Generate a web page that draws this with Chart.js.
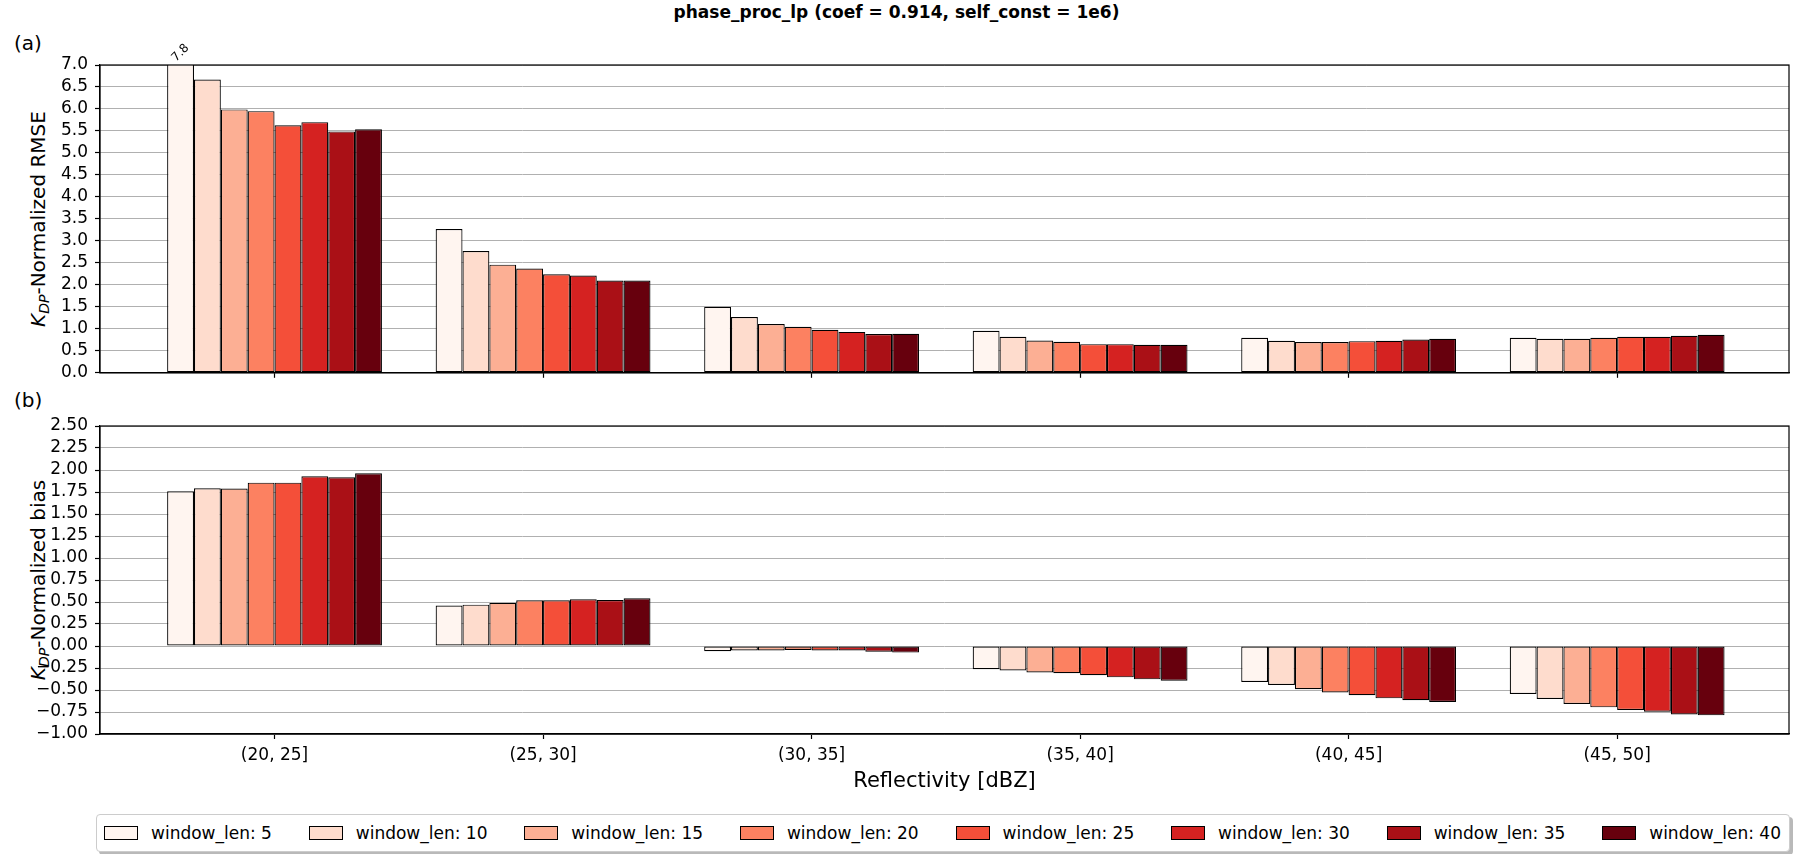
<!DOCTYPE html>
<html><head><meta charset="utf-8">
<script src="https://cdn.jsdelivr.net/npm/chart.js@4.4.0/dist/chart.umd.min.js"></script>
<style>
html,body{margin:0;padding:0;background:#fff;}
body{width:1793px;height:854px;position:relative;overflow:hidden;font-family:'DejaVu Sans',sans-serif;color:#000;}
canvas{position:absolute;left:0;}
#title{position:absolute;left:0;width:1793px;top:2px;text-align:center;font-weight:bold;font-size:17px;line-height:20px;white-space:nowrap;}
.tag{position:absolute;font-size:20px;line-height:24px;}
.ylab{position:absolute;font-size:20px;white-space:nowrap;transform:translate(-50%,-50%) rotate(-90deg);line-height:24px;}
.ylab i{font-style:italic;}
.ylab sub{font-size:70%;font-style:italic;vertical-align:-0.3em;line-height:0;}
#legend{position:absolute;left:96px;top:814px;width:1694px;height:38px;box-sizing:border-box;border:1px solid #cccccc;border-radius:4px;background:#fff;box-shadow:3px 3px 0 rgba(128,128,128,0.55);display:flex;align-items:center;justify-content:space-between;padding:0 8px 0 7px;font-size:17px;}
.item{display:flex;align-items:center;white-space:nowrap;}
.sw{width:34px;height:14px;border:1px solid #000;box-sizing:border-box;margin-right:13px;}
</style></head><body>
<div id="title">phase_proc_lp (coef = 0.914, self_const = 1e6)</div>
<div class="tag" style="left:14px;top:31px">(a)</div>
<div class="tag" style="left:14px;top:388px">(b)</div>
<div class="ylab" style="left:38px;top:219px"><i>K</i><sub>DP</sub>-Normalized RMSE</div>
<div class="ylab" style="left:38px;top:580px"><i>K</i><sub>DP</sub>-Normalized bias</div>
<canvas id="c1" width="1793" height="390" style="top:0;width:1793px;height:390px"></canvas>
<canvas id="c2" width="1793" height="404" style="top:390px;width:1793px;height:404px"></canvas>
<div id="legend"></div>
<script>
const categories = ['(20, 25]', '(25, 30]', '(30, 35]', '(35, 40]', '(40, 45]', '(45, 50]'];
const windowLens = [5, 10, 15, 20, 25, 30, 35, 40];
const colors = ['#fff5f0', '#fedccd', '#fcaf94', '#fc8161', '#f44f39', '#d52221', '#aa1016', '#67000d'];

// (a) normalized RMSE, one array per window length
const rmse_w5  = [7.8,  3.27, 1.50, 0.955, 0.795, 0.795];
const rmse_w10 = [6.67, 2.77, 1.27, 0.82,  0.727, 0.773];
const rmse_w15 = [5.99, 2.46, 1.11, 0.735, 0.70,  0.773];
const rmse_w20 = [5.95, 2.37, 1.045, 0.705, 0.70, 0.795];
const rmse_w25 = [5.63, 2.24, 0.977, 0.652, 0.72, 0.818];
const rmse_w30 = [5.70, 2.21, 0.93, 0.652, 0.727, 0.818];
const rmse_w35 = [5.49, 2.10, 0.88, 0.636, 0.758, 0.841];
const rmse_w40 = [5.54, 2.10, 0.886, 0.636, 0.773, 0.864];

// (b) normalized bias, one array per window length
const bias_w5  = [1.758, 0.46, -0.06,  -0.265, -0.409, -0.545];
const bias_w10 = [1.792, 0.47, -0.05,  -0.277, -0.443, -0.602];
const bias_w15 = [1.79,  0.49, -0.05,  -0.30,  -0.492, -0.659];
const bias_w20 = [1.856, 0.52, -0.045, -0.31,  -0.527, -0.697];
const bias_w25 = [1.856, 0.52, -0.05,  -0.333, -0.56,  -0.727];
const bias_w30 = [1.928, 0.53, -0.05,  -0.356, -0.595, -0.746];
const bias_w35 = [1.917, 0.523, -0.065, -0.379, -0.617, -0.777];
const bias_w40 = [1.962, 0.542, -0.075, -0.394, -0.636, -0.788];

const rmseTicks = [0.0, 0.5, 1.0, 1.5, 2.0, 2.5, 3.0, 3.5, 4.0, 4.5, 5.0, 5.5, 6.0, 6.5, 7.0];
const biasTicks = [-1.0, -0.75, -0.5, -0.25, 0.0, 0.25, 0.5, 0.75, 1.0, 1.25, 1.5, 1.75, 2.0, 2.25, 2.5];

const rmseSeries = [rmse_w5, rmse_w10, rmse_w15, rmse_w20, rmse_w25, rmse_w30, rmse_w35, rmse_w40];
const biasSeries = [bias_w5, bias_w10, bias_w15, bias_w20, bias_w25, bias_w30, bias_w35, bias_w40];

Chart.defaults.font.family = "'DejaVu Sans', sans-serif";
Chart.defaults.color = '#000';

const framePlugin = {
  id: 'frame',
  afterDraw(chart) {
    const a = chart.chartArea, ctx = chart.ctx;
    ctx.save();
    ctx.strokeStyle = '#000';
    ctx.lineWidth = 1.2;
    ctx.strokeRect(a.left, a.top, a.right - a.left, a.bottom - a.top);
    ctx.restore();
  }
};
const overflowLabels = {
  id: 'overflowLabels',
  afterDatasetsDraw(chart) {
    const ys = chart.scales.y, ctx = chart.ctx;
    chart.data.datasets.forEach((ds, di) => {
      const meta = chart.getDatasetMeta(di);
      ds.data.forEach((p, i) => {
        if (p.y > ys.max) {
          const el = meta.data[i];
          ctx.save();
          ctx.translate(el.x, chart.chartArea.top - 12);
          ctx.rotate(-Math.PI / 4);
          ctx.font = "12px 'DejaVu Sans'";
          ctx.fillStyle = '#000';
          ctx.textAlign = 'center';
          ctx.textBaseline = 'middle';
          ctx.fillText(String(p.y), 0, 0);
          ctx.restore();
        }
      });
    });
  }
};

function makePanel(canvas, series, yTicks, fmt, showX, padTop, xHeight) {
  const datasets = series.map((vals, k) => ({
    label: 'window_len: ' + windowLens[k],
    data: vals.map((v, i) => ({x: i, y: v})),
    backgroundColor: colors[k],
    borderColor: '#000',
    borderWidth: 1.2,
    borderSkipped: false,
    categoryPercentage: 0.8,
    barPercentage: 1.0,
    clip: 0
  }));
  return new Chart(canvas, {
    type: 'bar',
    data: {datasets},
    plugins: [framePlugin, overflowLabels],
    options: {
      responsive: false,
      animation: false,
      devicePixelRatio: 1,
      layout: {padding: {top: padTop, left: 0, right: 4, bottom: 0}},
      plugins: {legend: {display: false}, tooltip: {enabled: false}},
      scales: {
        x: {
          type: 'linear', min: -0.65, max: 5.64, bounds: 'data', offset: false,
          afterBuildTicks: s => { s.ticks = categories.map((c, i) => ({value: i})); },
          afterFit: s => { s.height = xHeight; },
          ticks: {display: showX, callback: v => categories[v], font: {size: 17}, padding: 6, maxRotation: 0, autoSkip: false},
          grid: {offset: false, drawOnChartArea: false, drawTicks: true, tickLength: 5, tickColor: '#000', tickWidth: 1.2},
          border: {color: '#000', width: 1.2},
          title: {display: showX, text: 'Reflectivity [dBZ]', font: {size: 21}, padding: 0}
        },
        y: {
          type: 'linear', min: yTicks[0], max: yTicks[yTicks.length - 1], bounds: 'data',
          afterBuildTicks: s => { s.ticks = yTicks.map(v => ({value: v})); },
          afterFit: s => { s.width = 100; },
          ticks: {callback: v => fmt(v), font: {size: 17}, padding: 7, autoSkip: false},
          grid: {color: '#b0b0b0', lineWidth: 1, tickLength: 5, tickColor: '#000', tickWidth: 1.2},
          border: {color: '#000', width: 1.2}
        }
      }
    }
  });
}

const fmt1 = v => v.toFixed(1);
const fmt2 = v => v.toFixed(2).replace('-', '\u2212');
makePanel(document.getElementById('c1'), rmseSeries, rmseTicks, fmt1, false, 65, 17);
makePanel(document.getElementById('c2'), biasSeries, biasTicks, fmt2, true, 36, 60);

const leg = document.getElementById('legend');
windowLens.forEach((w, k) => {
  const it = document.createElement('div');
  it.className = 'item';
  const sw = document.createElement('div');
  sw.className = 'sw';
  sw.style.background = colors[k];
  const tx = document.createElement('span');
  tx.textContent = 'window_len: ' + w;
  it.appendChild(sw); it.appendChild(tx);
  leg.appendChild(it);
});
</script>
</body></html>
